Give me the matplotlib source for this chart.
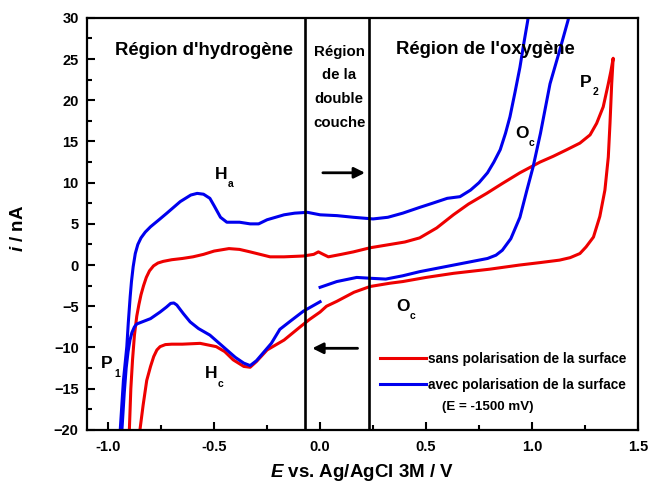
import matplotlib
matplotlib.use("Agg")
import matplotlib.pyplot as plt
from matplotlib.ticker import MultipleLocator, FormatStrFormatter

plt.rcParams['font.family'] = ['Liberation Sans', 'DejaVu Sans']
plt.rcParams['mathtext.fontset'] = 'custom'
plt.rcParams['mathtext.it'] = 'Liberation Sans:italic:bold'
plt.rcParams['mathtext.rm'] = 'Liberation Sans:bold'
plt.rcParams['mathtext.bf'] = 'Liberation Sans:bold'

# ---- data: red (sans polarisation) full cycle ----
red_E = [-0.903, -0.9, -0.893, -0.885, -0.876, -0.865, -0.855, -0.845, -0.833, -0.82, -0.805,
         -0.786, -0.765, -0.74, -0.70, -0.65, -0.60, -0.55, -0.5, -0.43, -0.38, -0.33, -0.236,
         -0.17, -0.079, -0.03, -0.008, 0.015, 0.039, 0.1, 0.157, 0.236, 0.33, 0.40, 0.47, 0.55,
         0.629, 0.70, 0.786, 0.86, 0.943, 1.038, 1.10, 1.164, 1.226, 1.274, 1.305, 1.336, 1.36,
         1.372, 1.383,
         1.376, 1.368, 1.36, 1.344, 1.32, 1.29, 1.255, 1.226, 1.18, 1.13, 1.038, 0.94, 0.80,
         0.63, 0.50, 0.39, 0.33, 0.236, 0.16, 0.079, 0.03, 0.0, -0.05, -0.094, -0.17, -0.25,
         -0.30, -0.33, -0.36, -0.41, -0.45, -0.49, -0.566, -0.65, -0.70, -0.73, -0.755, -0.77,
         -0.785, -0.80, -0.818, -0.835, -0.85, -0.858]
red_i = [-22, -20, -15, -11.5, -8.5, -6.2, -4.8, -3.6, -2.5, -1.5, -0.7,
         -0.1, 0.25, 0.45, 0.65, 0.8, 1.0, 1.3, 1.7, 2.0, 1.9, 1.6, 1.0,
         1.0, 1.1, 1.3, 1.6, 1.3, 1.0, 1.3, 1.6, 2.1, 2.5, 2.8, 3.3, 4.5,
         6.1, 7.4, 8.7, 9.9, 11.2, 12.5, 13.2, 14.0, 14.8, 15.8, 17.2, 19.2, 22.0,
         23.5, 25.1,
         22.0, 17.2, 13.1, 9.1, 5.9, 3.4, 2.2, 1.4, 0.9, 0.6, 0.3, 0.0, -0.5,
         -1.0, -1.5, -2.0, -2.2, -2.6, -3.3, -4.4, -5.0, -5.7, -6.6, -7.5, -9.1, -10.3,
         -11.7, -12.4, -12.3, -11.5, -10.5, -9.9, -9.5, -9.6, -9.6, -9.65, -9.9, -10.3,
         -11.1, -12.3, -14.0, -17.0, -20.0, -22]

# ---- data: blue (avec polarisation), starts at 0 V ----
blue_E = [0.0, 0.079, 0.173, 0.236, 0.31, 0.39, 0.47, 0.55, 0.63, 0.71, 0.79, 0.83, 0.86, 0.90,
          0.943, 0.975, 1.005, 1.04, 1.085, 1.13, 1.17, 1.19,
          0.99, 0.98, 0.962, 0.943, 0.92, 0.896, 0.875, 0.85, 0.82, 0.79, 0.75, 0.71, 0.66, 0.60,
          0.53, 0.47, 0.39, 0.32, 0.25, 0.157, 0.08, 0.0, -0.06, -0.12, -0.17, -0.25, -0.29, -0.33,
          -0.38, -0.44, -0.47, -0.50, -0.52, -0.55, -0.58, -0.61, -0.66, -0.723, -0.76, -0.80,
          -0.825, -0.845, -0.86, -0.872, -0.882, -0.89, -0.896, -0.905, -0.912, -0.928, -0.943,
          -0.948,
          -0.94, -0.935, -0.924, -0.915, -0.906, -0.897, -0.888, -0.876, -0.865, -0.85, -0.83,
          -0.80, -0.755, -0.725, -0.705, -0.69, -0.676, -0.645, -0.613, -0.574, -0.52, -0.48,
          -0.44, -0.40, -0.36, -0.33, -0.30, -0.27, -0.23, -0.19, -0.14, -0.079, 0.0]
blue_i = [-2.7, -2.0, -1.5, -1.6, -1.7, -1.3, -0.8, -0.4, 0.0, 0.4, 0.8, 1.2, 1.8, 3.2,
          5.8, 9.0, 11.9, 16.0, 22.0, 26.0, 29.7, 32,
          32, 29.7, 27.0, 24.0, 21.0, 18.0, 16.0, 14.0, 12.5, 11.2, 10.0, 9.1, 8.3, 8.1,
          7.5, 7.0, 6.3, 5.8, 5.6, 5.8, 6.0, 6.1, 6.4, 6.3, 6.1, 5.5, 5.0, 5.0,
          5.2, 5.2, 5.8, 7.2, 8.1, 8.6, 8.7, 8.5, 7.7, 6.3, 5.5, 4.65,
          4.0, 3.3, 2.5, 1.4, -0.2, -2.0, -3.8, -7.0, -9.9, -14.0, -20.0,
          -22,
          -22, -20.0, -15.5, -12.5, -10.5, -9.1, -8.2, -7.5, -7.15, -7.0, -6.8,
          -6.5, -5.7, -5.1, -4.65, -4.6, -4.85, -5.9, -6.9, -7.7, -8.5, -9.4,
          -10.3, -11.2, -11.9, -12.2, -11.6, -10.7, -9.5, -7.8, -6.8, -5.6, -4.45]

# region boundaries (V)
boundaries = [-0.072, 0.232]

series_labels = ["sans polarisation de la surface", "avec polarisation de la surface"]
series_colors = ["#ee0000", "#0000ee"]
x_ticks = [-1.0, -0.5, 0.0, 0.5, 1.0, 1.5]
y_ticks = [-20, -15, -10, -5, 0, 5, 10, 15, 20, 25, 30]

fig = plt.figure(figsize=(6.49, 4.83), dpi=100)
ax = fig.add_axes([0.134, 0.110, 0.849, 0.853])

ax.plot(red_E, red_i, color=series_colors[0], lw=2.2, label=series_labels[0], solid_joinstyle='round')
ax.plot(blue_E, blue_i, color=series_colors[1], lw=2.2, label=series_labels[1], solid_joinstyle='round')

for b in boundaries:
    ax.axvline(b, color='black', lw=1.9)

ax.set_xlim(-1.1, 1.5)
ax.set_ylim(-20, 30)
ax.set_xticks(x_ticks)
ax.set_yticks(y_ticks)
ax.xaxis.set_major_formatter(FormatStrFormatter('%.1f'))
ax.xaxis.set_minor_locator(MultipleLocator(0.25))
ax.yaxis.set_minor_locator(MultipleLocator(2.5))
ax.tick_params(which='both', direction='in', width=1.5, labelsize=10.5)
ax.tick_params(which='major', length=6)
ax.tick_params(which='minor', length=3.5)
ax.tick_params(axis='x', which='major', pad=7)
ax.tick_params(axis='y', which='major', pad=6)
for lab in ax.get_xticklabels() + ax.get_yticklabels():
    lab.set_fontweight('bold')
for s in ax.spines.values():
    s.set_linewidth(1.6)

ax.set_xlabel(r'$\mathit{E}$ vs. Ag/AgCl 3M / V', fontsize=13.5, fontweight='bold')
ax.set_ylabel(r'$\mathit{i}$ / nA', fontsize=13.5, fontweight='bold')
ax.xaxis.set_label_coords(0.5, -0.077)
ax.yaxis.set_label_coords(-0.108, 0.49)

# region titles
ax.text(-0.547, 26.1, "Région d'hydrogène", ha='center', va='center', fontsize=13.3, fontweight='bold')
ax.text(0.778, 26.2, "Région de l'oxygène", ha='center', va='center', fontsize=13.3, fontweight='bold')
ax.text(0.09, 21.6, "Région\nde la\ndouble\ncouche", ha='center', va='center', fontsize=10.8,
        fontweight='bold', linespacing=1.88)

# arrows
ax.annotate('', xy=(0.225, 11.2), xytext=(0.0, 11.2),
            arrowprops=dict(arrowstyle='-|>', lw=2, color='black', mutation_scale=16))
ax.annotate('', xy=(-0.05, -10.1), xytext=(0.19, -10.1),
            arrowprops=dict(arrowstyle='-|>', lw=2, color='black', mutation_scale=16))

# peak labels
def peak_label(x, y, main, sub):
    ax.text(x, y, main, ha='center', va='center', fontsize=12.5, fontweight='bold')
    ax.annotate(sub, xy=(x, y), xytext=(7, -7), textcoords='offset points',
                ha='center', va='center', fontsize=7.5, fontweight='bold')

peak_label(-0.467, 11.0, 'H', 'a')
peak_label(-0.514, -13.2, 'H', 'c')
peak_label(-1.005, -12.0, 'P', '1')
peak_label(1.255, 22.2, 'P', '2')
peak_label(0.953, 16.0, 'O', 'c')
peak_label(0.39, -5.0, 'O', 'c')

leg = ax.legend(loc='upper left', bbox_to_anchor=(0.532, 0.19), frameon=False,
                handlelength=3.4, handletextpad=0.15, labelspacing=0.9, borderpad=0,
                borderaxespad=0, prop={'weight': 'bold', 'size': 9.8})
ax.text(0.79, -17.2, "(E = -1500 mV)", ha='center', va='center', fontsize=9.6, fontweight='bold')

fig.savefig('out.png', dpi=100)
